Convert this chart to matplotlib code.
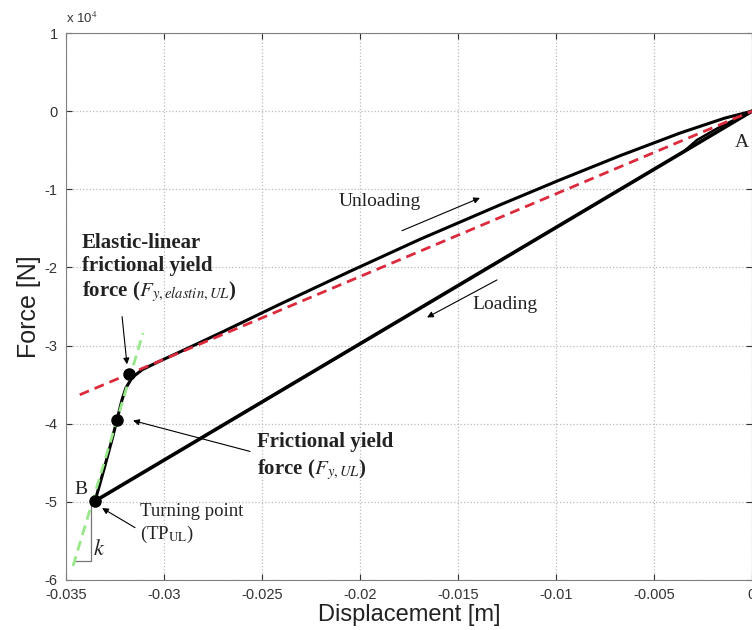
import numpy as np
import matplotlib.pyplot as plt

plt.rcParams['font.family'] = ['Liberation Sans', 'DejaVu Sans']
plt.rcParams['mathtext.fontset'] = 'stix'

# force values in units of 1e4 N
unload_x = [-0.03352, -0.03306, -0.03265, -0.03240, -0.03214, -0.03194, -0.03163,
            -0.03112, -0.03031, -0.02918, -0.02714, -0.02408, -0.02051, -0.01694,
            -0.01286, -0.00980, -0.00673, -0.00367, -0.00140, 0.0]
unload_y = [-4.99, -4.58, -4.20, -3.95, -3.69, -3.54, -3.41, -3.31, -3.21, -3.08,
            -2.84, -2.47, -2.05, -1.64, -1.20, -0.88, -0.57, -0.28, -0.09, 0.0]
load_x = [0.0, -0.03352]
load_y = [0.0, -4.99]
init_x = [0.0, -0.00163, -0.00281, -0.00327, -0.00355]
init_y = [0.0, -0.20, -0.37, -0.47, -0.53]
elastic_x = [-0.0343, 0.0]
elastic_y = [-3.63, 0.0]
stiff_x = [-0.03464, -0.03107]
stiff_y = [-5.82, -2.84]
pts_x = [-0.03352, -0.03240, -0.03180]   # TP, Fy, Fy elastin
pts_y = [-4.99, -3.95, -3.37]
k_x = [-0.03454, -0.03372, -0.03372]
k_y = [-5.76, -5.76, -5.00]

xticks = [-0.035, -0.03, -0.025, -0.02, -0.015, -0.01, -0.005, 0]
xticklabels = ['-0.035', '-0.03', '-0.025', '-0.02', '-0.015', '-0.01', '-0.005', '0']
yticks = [1, 0, -1, -2, -3, -4, -5, -6]

fig = plt.figure(figsize=(7.52, 6.3), dpi=100)
ax = fig.add_axes([0.0878, 0.0794, 0.9122, 0.8682])

ax.plot(k_x, k_y, color='#777777', lw=0.9)
ax.plot(load_x, load_y, color='k', lw=2.6, solid_capstyle='round')
ax.plot(init_x, init_y, color='k', lw=1.8)
ax.plot(unload_x, unload_y, color='k', lw=2.2)
ax.plot(elastic_x, elastic_y, color='#dc2a3c', lw=2, dashes=(3.6, 2.2))
ax.plot(stiff_x, stiff_y, color='#98e88a', lw=2, dashes=(3.6, 2.2))
ax.plot(pts_x, pts_y, 'o', color='k', ms=8, ls='none')

serif = 'Liberation Serif'
tc = '#222222'
ax.text(-0.03423, -4.84, 'B', family=serif, fontsize=14, ha='center', va='center', color=tc)
ax.text(-0.00051, -0.40, 'A', family=serif, fontsize=14, ha='center', va='center', color=tc)
ax.text(-0.03332, -5.61, '$k$', fontsize=16, ha='center', va='center', color=tc)

arw = dict(arrowstyle='-|>', color='k', lw=0.8, mutation_scale=9, shrinkA=0, shrinkB=0)
ax.text(-0.01898, -1.16, 'Unloading', family=serif, fontsize=14, ha='center', va='center', color=tc)
ax.annotate('', xy=(-0.01388, -1.11), xytext=(-0.01786, -1.53), arrowprops=arw)
ax.text(-0.0126, -2.48, 'Loading', family=serif, fontsize=14, ha='center', va='center', color=tc)
ax.annotate('', xy=(-0.01658, -2.64), xytext=(-0.01301, -2.16), arrowprops=arw)

ax.text(-0.03418, -1.56, 'Elastic-linear\nfrictional yield\nforce ($F_{y,elastin,UL}$)',
        family=serif, fontweight='bold', fontsize=15, ha='left', va='top', color=tc,
        linespacing=1.2)
ax.annotate('', xy=(-0.03189, -3.24), xytext=(-0.03214, -2.63), arrowprops=arw)

ax.text(-0.02526, -4.10, 'Frictional yield\nforce ($F_{y,UL}$)',
        family=serif, fontweight='bold', fontsize=15, ha='left', va='top', color=tc,
        linespacing=1.3)
ax.annotate('', xy=(-0.03158, -3.96), xytext=(-0.02561, -4.355), arrowprops=arw)

ax.text(-0.03122, -5.02, 'Turning point\n(TP$_{\\mathrm{UL}}$)', family=serif, fontsize=13.5,
        ha='left', va='top', color=tc, linespacing=1.25)
ax.annotate('', xy=(-0.03316, -5.08), xytext=(-0.03148, -5.33), arrowprops=arw)

ax.set_xlim(-0.035, 0)
ax.set_ylim(-6, 1)
ax.set_xticks(xticks)
ax.set_xticklabels(xticklabels)
ax.set_yticks(yticks)
ax.set_yticklabels([str(t) for t in yticks])
ax.tick_params(direction='in', top=True, right=True, labelsize=10.5, colors='#333333',
               length=4, pad=6)
ax.grid(True, ls=':', color='#bbbbbb', lw=0.9)
for s in ax.spines.values():
    s.set_color('#808080')
ax.set_xlabel('Displacement [m]', fontsize=17, color='#222222', labelpad=1)
ax.set_ylabel('Force [N]', fontsize=18, color='#222222', labelpad=3)
ax.text(0.0, 1.012, 'x 10$^4$', transform=ax.transAxes, fontsize=9.5, color='#333333',
        ha='left', va='bottom')

fig.savefig('out.png', dpi=100)
